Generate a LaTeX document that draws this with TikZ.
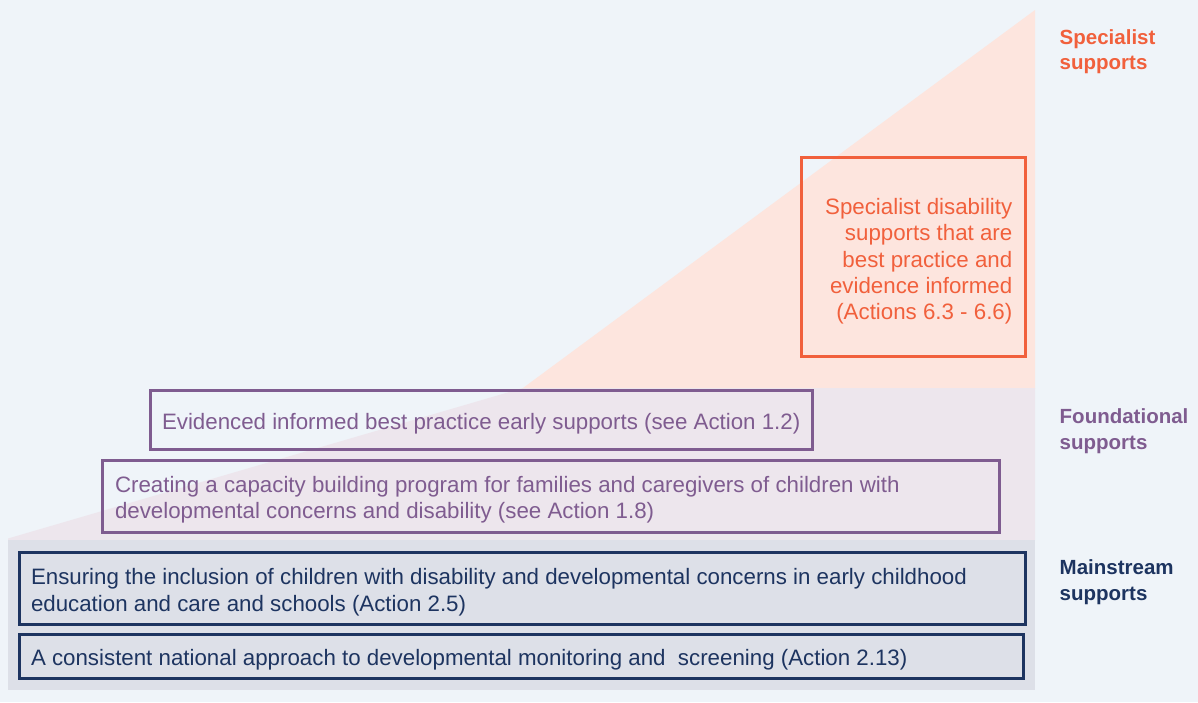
\documentclass[tikz,border=0pt]{standalone}
\usepackage{fontspec}
\setmainfont{Liberation Sans}
\definecolor{bgc}{RGB}{239,244,249}
\definecolor{peach}{RGB}{253,229,222}
\definecolor{lav}{RGB}{237,230,237}
\definecolor{grayband}{RGB}{221,224,232}
\definecolor{orangec}{RGB}{241,96,60}
\definecolor{purplec}{RGB}{127,92,144}
\definecolor{navyc}{RGB}{29,52,96}
\begin{document}
\begin{tikzpicture}[x=1pt,y=-1pt,
  boxframe/.style={draw, line width=3pt, inner sep=0pt, rectangle},
  bodytext/.style={inner sep=0pt, font=\fontsize{22.3}{26.2}\selectfont},
  sidelabel/.style={inner sep=0pt, anchor=west, align=left, font=\fontsize{20.5}{25.7}\selectfont\bfseries}]
% background and bands
\fill[bgc] (0,0) rectangle (1198,702);
\useasboundingbox (0,0) rectangle (1198,702);
\fill[peach] (523,388) -- (1035,10) -- (1035,388.5) -- cycle;
\fill[lav] (8,538.5) -- (523,388) -- (1035,388) -- (1035,540) -- (8,540) -- cycle;
\fill[grayband] (8,540) rectangle (1035,690);
% boxes
\node[boxframe, draw=orangec, minimum width=223.8pt, minimum height=199pt] (spec) at (913.6,257) {};
\node[boxframe, draw=purplec, minimum width=662.5pt, minimum height=59.2pt] (evid) at (481.25,420.1) {};
\node[boxframe, draw=purplec, minimum width=896.7pt, minimum height=71.7pt] (cap) at (550.85,496.15) {};
\node[boxframe, draw=navyc, minimum width=1006pt, minimum height=72.2pt] (ens) at (522,588.6) {};
\node[boxframe, draw=navyc, minimum width=1004.3pt, minimum height=43.2pt] (cons) at (521.15,656.4) {};
% texts
\node[bodytext, text=orangec, anchor=east, align=right] (specT) at (1012.5,261.3)
  {Specialist disability\\supports that are\\best practice and\\evidence informed\\(Actions 6.3 - 6.6)};
\node[bodytext, text=purplec, anchor=west, align=left] (evidT) at (161.8,423.6)
  {Evidenced informed best practice early supports (see Action 1.2)};
\node[bodytext, text=purplec, anchor=west, align=left] (capT) at (114.8,499.8)
  {Creating a capacity building program for families and caregivers of children with\\developmental concerns and disability (see Action 1.8)};
\node[bodytext, text=navyc, anchor=west, align=left] (ensT) at (30.8,592.3)
  {Ensuring the inclusion of children with disability and developmental concerns in early childhood\\education and care and schools (Action 2.5)};
\node[bodytext, text=navyc, anchor=west, align=left] (consT) at (30.8,660)
  {A consistent national approach to developmental monitoring and\ \ screening (Action 2.13)};
% side labels
\node[sidelabel, text=orangec] (lspec) at (1059.5,51.8) {Specialist\\supports};
\node[sidelabel, text=purplec] (lfound) at (1059.5,431) {Foundational\\supports};
\node[sidelabel, text=navyc] (lmain) at (1059.5,582.5) {Mainstream\\supports};
\end{tikzpicture}
\end{document}
